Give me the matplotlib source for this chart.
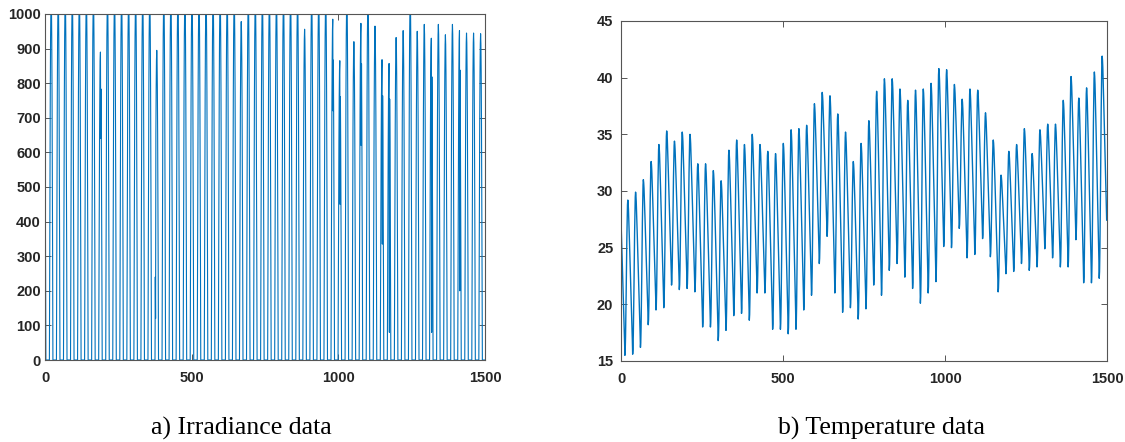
import numpy as np
import matplotlib.pyplot as plt

# ---------------------------------------------------------------------------
# Data (hourly samples, 1500 hours)
# ---------------------------------------------------------------------------
n_hours = 1500

# irradiance: daily peak (W/m2) per day, days with peak > axis top drawn at 1060
irr_start_peak = 930
irr_peak = [1060, 1060, 1060, 1060, 1060, 1060, 1060, 890, 1060, 1060,
            1060, 1060, 1060, 1060, 1060, 895, 1060, 1060, 1060, 1060,
            1060, 1060, 1060, 1060, 1060, 1060, 1060, 978, 1060, 1060,
            1060, 1060, 1060, 1060, 1060, 1060, 956, 1060, 1060, 1060,
            985, 865, 1060, 920, 973, 1060, 965, 868, 857, 932,
            952, 1060, 950, 970, 930, 970, 940, 970, 952, 945,
            945, 943]
# shape of one sunny day, hours after sunrise
irr_profile = [0.0, 0.27, 0.52, 0.73, 0.88, 0.97, 1.0, 0.97, 0.88, 0.73,
               0.52, 0.27, 0.0]
# cloud dips: day, hour after sunrise, value
dip_day = [7, 15, 15, 40, 41, 44, 47, 48, 54, 58]
dip_hour = [7, 1, 2, 7, 7, 7, 7, 7, 7, 7]
dip_value = [640, 240, 120, 720, 450, 620, 335, 80, 80, 200]

# temperature: daily maxima and minima (deg C)
temp_start_peak = 29.1
temp_peak = [29.2, 29.9, 31.0, 32.6, 34.1, 35.3, 34.4, 35.2, 35.0, 32.4,
             32.4, 31.8, 30.9, 33.6, 34.5, 34.1, 35.0, 34.1, 33.5, 33.3,
             34.2, 35.4, 35.5, 35.8, 37.7, 38.7, 38.4, 36.8, 35.2, 32.6,
             34.2, 36.2, 38.8, 39.9, 39.9, 39.0, 38.0, 38.9, 39.0, 39.5,
             40.8, 40.7, 39.4, 38.1, 39.0, 38.9, 36.9, 34.5, 31.4, 33.5,
             34.1, 35.5, 33.3, 35.4, 35.9, 35.9, 38.0, 40.1, 38.2, 39.1,
             40.5, 41.9]
temp_trough = [15.5, 15.6, 16.2, 18.2, 19.5, 19.7, 21.7, 21.3, 21.4, 21.1,
               18.0, 18.0, 16.8, 17.7, 19.0, 19.2, 18.6, 21.0, 21.0, 17.8,
               17.8, 17.4, 17.8, 19.5, 20.8, 23.6, 26.0, 21.0, 19.3, 19.7,
               18.7, 19.6, 21.7, 20.8, 23.0, 23.6, 22.4, 21.4, 20.1, 21.0,
               22.0, 25.1, 25.0, 26.7, 24.1, 24.4, 25.8, 24.2, 21.1, 22.7,
               22.9, 23.6, 23.0, 23.3, 24.9, 24.1, 23.3, 23.3, 25.7, 21.9,
               21.9, 22.3, 26.0]
# evening fall (15 h after max) and morning rise (9 h after min)
temp_fall = [1.0, 0.98, 0.94, 0.88, 0.81, 0.74, 0.67, 0.60, 0.53, 0.46,
             0.39, 0.32, 0.25, 0.17, 0.09, 0.0]
temp_rise = [0.0, 0.03, 0.12, 0.25, 0.41, 0.59, 0.75, 0.88, 0.97, 1.0]

x_ticks = [0, 500, 1000, 1500]
irr_yticks = list(range(0, 1001, 100))
temp_yticks = [15, 20, 25, 30, 35, 40, 45]

LINE = '#0072BD'
FRAME = '#555555'
TXT = '#262626'

# ---------------------------------------------------------------------------
# Build hourly series
# ---------------------------------------------------------------------------
hours = np.arange(n_hours)

irr = np.zeros(n_hours)
peaks = [irr_start_peak] + irr_peak
for j, pk in enumerate(peaks):
    sunrise = 15 + 24 * (j - 1)
    for o, f in enumerate(irr_profile):
        h = sunrise + o
        if 0 <= h < n_hours:
            irr[h] = pk * f
for d, o, v in zip(dip_day, dip_hour, dip_value):
    irr[15 + 24 * d + o] = v

P = [temp_start_peak] + temp_peak
T = temp_trough
temp = np.zeros(n_hours)
for h in hours:
    c, p = divmod(h + 3, 24)
    if p <= 15:
        temp[h] = T[c] + (P[c] - T[c]) * temp_fall[p]
    else:
        temp[h] = T[c] + (P[c + 1] - T[c]) * temp_rise[p - 15]

# ---------------------------------------------------------------------------
# Plot
# ---------------------------------------------------------------------------
fig = plt.figure(figsize=(11.25, 4.42), dpi=100)
ax1 = fig.add_axes([45 / 1125, 1 - 360 / 442, 440 / 1125, 346 / 442])
ax2 = fig.add_axes([621 / 1125, 1 - 361 / 442, 486 / 1125, 340 / 442])


def style(ax, ypad):
    ax.set_xlim(0, 1500)
    ax.set_xticks(x_ticks)
    ax.tick_params(direction='in', top=True, right=True, length=4,
                   width=0.7, color=FRAME, labelcolor=TXT)
    ax.tick_params(axis='x', pad=8)
    ax.tick_params(axis='y', pad=ypad)
    for sp in ax.spines.values():
        sp.set_color(FRAME)
        sp.set_linewidth(0.8)
    for lab in ax.get_xticklabels() + ax.get_yticklabels():
        lab.set_fontfamily('Liberation Sans')
        lab.set_fontweight('bold')
        lab.set_fontsize(10.5)


ax1.plot(hours, irr, color=LINE, lw=0.8)
ax1.set_ylim(0, 1000)
ax1.set_yticks(irr_yticks)
style(ax1, 3)

ax2.plot(hours, temp, color=LINE, lw=1.0)
ax2.set_ylim(15, 45)
ax2.set_yticks(temp_yticks)
style(ax2, 5.5)

fig.text(241 / 1125, 1 - 435 / 442, 'a) Irradiance data', ha='center',
         va='baseline', fontsize=18.5, family='Liberation Serif', color='black')
fig.text(882 / 1125, 1 - 435 / 442, 'b) Temperature data', ha='center',
         va='baseline', fontsize=18.5, family='Liberation Serif', color='black')

fig.savefig('out.png', dpi=100)
